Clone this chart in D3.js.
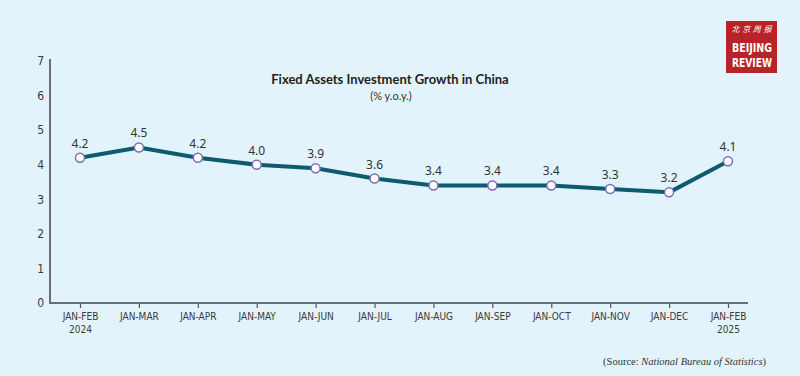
<!DOCTYPE html>
<html>
<head>
<meta charset="utf-8">
<script src="https://cdn.jsdelivr.net/npm/d3@7"></script>
<style>
  html, body { margin: 0; padding: 0; background: #e3f3fb; }
  svg { display: block; }
  .tick_label { font-family: "DejaVu Sans Condensed", "DejaVu Sans", sans-serif; font-size: 10px; fill: #3a3a3a; }
  .value_label { font-family: "Noto Sans", sans-serif; font-size: 12px; fill: #333; }
</style>
</head>
<body>
<div id="chart"></div>
<script>
const periods = ["JAN-FEB", "JAN-MAR", "JAN-APR", "JAN-MAY", "JAN-JUN", "JAN-JUL",
                 "JAN-AUG", "JAN-SEP", "JAN-OCT", "JAN-NOV", "JAN-DEC", "JAN-FEB"];
const periodYears = ["2024", "", "", "", "", "", "", "", "", "", "", "2025"];
const growth = [4.2, 4.5, 4.2, 4.0, 3.9, 3.6, 3.4, 3.4, 3.4, 3.3, 3.2, 4.1];
const yTicks = [0, 1, 2, 3, 4, 5, 6, 7];

const width = 800, height = 376;
const plot = { left: 50, right: 748, top: 61, bottom: 303 };

const svg = d3.select('#chart').append('svg')
  .attr('width', width)
  .attr('height', height);

svg.append('rect')
  .attr('width', width)
  .attr('height', height)
  .attr('fill', '#e3f3fb');

const keys = periods.map(function (d, i) { return i });

const x = d3.scalePoint()
  .domain(keys)
  .range([80, 728]);

const y = d3.scaleLinear()
  .domain([0, 7])
  .range([plot.bottom, plot.top]);

// axes
const yAxis = svg.append('g')
  .attr('transform', 'translate(' + plot.left + ',0)')
  .call(d3.axisLeft(y).tickValues(yTicks).tickFormat(d3.format('d')).tickSize(0).tickPadding(6));
yAxis.select('.domain').remove();
yAxis.selectAll('.tick text')
  .attr('class', 'tick_label')
  .style('font-size', '12px');

svg.append('line')
  .attr('x1', plot.left).attr('x2', plot.left)
  .attr('y1', plot.top - 2).attr('y2', plot.bottom)
  .attr('stroke', '#6b6f72').attr('stroke-width', 2);

const xAxis = svg.append('g')
  .attr('transform', 'translate(0,' + plot.bottom + ')')
  .call(d3.axisBottom(x).tickSize(5).tickFormat(function (i) { return periods[i] }));
xAxis.select('.domain').remove();
xAxis.selectAll('.tick line').attr('stroke', '#555').attr('stroke-width', 1.2);
xAxis.selectAll('.tick text')
  .attr('class', 'tick_label')
  .attr('y', 17)
  .attr('dy', 0);
xAxis.selectAll('.tick').filter(function (i) { return periodYears[i] })
  .append('text')
    .attr('class', 'tick_label')
    .attr('text-anchor', 'middle')
    .attr('y', 30)
    .text(function (i) { return periodYears[i] });

svg.append('line')
  .attr('x1', plot.left - 1).attr('x2', plot.right)
  .attr('y1', plot.bottom).attr('y2', plot.bottom)
  .attr('stroke', '#6b6f72').attr('stroke-width', 2);

// series
const line = d3.line()
  .x(function (d, i) { return x(i) })
  .y(function (d) { return y(d) });

svg.append('path')
  .attr('d', line(growth))
  .attr('fill', 'none')
  .attr('stroke', '#0d5b6e')
  .attr('stroke-width', 4)
  .attr('stroke-linejoin', 'round');

svg.selectAll('.dot')
  .data(growth)
  .enter().append('circle')
    .attr('class', 'dot')
    .attr('cx', function (d, i) { return x(i) })
    .attr('cy', function (d) { return y(d) })
    .attr('r', 4.5)
    .attr('fill', '#fff')
    .attr('stroke', '#7a6db5')
    .attr('stroke-width', 1.5);

svg.selectAll('.value_label')
  .data(growth)
  .enter().append('text')
    .attr('class', 'value_label')
    .attr('text-anchor', 'middle')
    .attr('x', function (d, i) { return x(i) })
    .attr('y', function (d) { return y(d) - 10 })
    .text(function (d) { return d.toFixed(1) });

// titles
svg.append('text')
  .attr('x', 390).attr('y', 84)
  .attr('text-anchor', 'middle')
  .style('font-family', 'Lato, sans-serif')
  .style('font-weight', 'bold')
  .style('font-size', '13px')
  .attr('fill', '#222')
  .text('Fixed Assets Investment Growth in China');

svg.append('text')
  .attr('x', 391).attr('y', 100)
  .attr('text-anchor', 'middle')
  .style('font-family', 'Lato, sans-serif')
  .style('font-size', '11px')
  .attr('fill', '#333')
  .text('(% y.o.y.)');

// source
const source = svg.append('text')
  .attr('x', 766).attr('y', 365)
  .attr('text-anchor', 'end')
  .style('font-family', '"Liberation Serif", serif')
  .style('font-size', '10.5px')
  .attr('fill', '#333');
source.append('tspan').text('(Source: ');
source.append('tspan').style('font-style', 'italic').text('National Bureau of Statistics');
source.append('tspan').text(')');

// logo
const logo = svg.append('g').attr('transform', 'translate(726,21)');
logo.append('rect')
  .attr('width', 51).attr('height', 52)
  .attr('fill', '#b8232a');
logo.append('text')
  .attr('x', 25.5).attr('y', 11)
  .attr('text-anchor', 'middle')
  .style('font-family', '"Noto Sans CJK SC", sans-serif')
  .style('font-size', '8px')
  .style('font-style', 'italic')
  .attr('fill', '#fff')
  .attr('textLength', 40)
  .text('北京周报');
logo.append('text')
  .attr('x', 6).attr('y', 31)
  .style('font-family', '"Liberation Sans Narrow", "DejaVu Sans Condensed", sans-serif')
  .style('font-weight', 'bold')
  .style('font-size', '13px')
  .attr('fill', '#fff')
  .attr('textLength', 40)
  .attr('lengthAdjust', 'spacingAndGlyphs')
  .text('BEIJING');
logo.append('text')
  .attr('x', 6).attr('y', 46)
  .style('font-family', '"Liberation Sans Narrow", "DejaVu Sans Condensed", sans-serif')
  .style('font-weight', 'bold')
  .style('font-size', '13px')
  .attr('fill', '#fff')
  .attr('textLength', 40)
  .attr('lengthAdjust', 'spacingAndGlyphs')
  .text('REVIEW');
</script>
</body>
</html>
